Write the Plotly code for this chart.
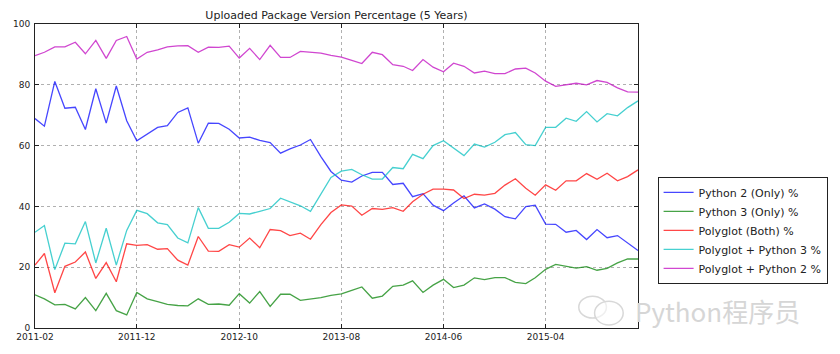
import pandas as pd
import plotly.graph_objects as go

months = pd.date_range("2011-02-01", periods=60, freq="MS")

python2_only = [68.9, 66.4, 81.1, 72.3, 72.6, 65.3, 78.7, 67.4, 79.6, 68.2,
                61.6, 63.8, 66.0, 66.6, 70.9, 72.4, 60.8, 67.4, 67.3, 65.4,
                62.5, 62.8, 61.7, 61.0, 57.5, 58.9, 60.2, 62.0, 56.4, 51.5,
                48.6, 48.0, 50.0, 51.2, 51.2, 47.2, 47.6, 43.2, 44.2, 40.4,
                38.6, 41.1, 43.5, 39.5, 40.8, 39.1, 36.6, 35.9, 39.9, 40.4,
                34.2, 34.1, 31.5, 32.1, 29.1, 32.4, 29.7, 30.4, 28.0, 25.5]

python3_only = [10.9, 9.6, 7.6, 7.8, 6.3, 10.0, 5.7, 11.4, 5.7, 4.3,
                11.7, 9.6, 8.7, 7.8, 7.4, 7.3, 9.6, 7.8, 7.9, 7.5,
                11.3, 8.2, 12.0, 7.1, 11.1, 11.1, 9.1, 9.5, 10.0, 10.7,
                11.2, 12.4, 13.5, 9.8, 10.5, 13.7, 14.1, 15.5, 11.7, 14.1,
                16.0, 13.3, 14.1, 16.5, 15.9, 16.6, 16.6, 15.0, 14.6, 16.5,
                19.3, 20.9, 20.3, 19.7, 20.2, 19.0, 19.6, 21.4, 22.7, 22.7]

polyglot_both = [20.7, 24.5, 11.6, 20.3, 21.7, 25.0, 16.3, 21.5, 15.2, 27.7,
                 27.2, 27.4, 25.9, 26.1, 22.3, 20.7, 30.1, 25.3, 25.2, 27.4,
                 26.6, 29.6, 26.4, 32.4, 32.0, 30.4, 31.2, 29.2, 34.0, 38.0,
                 40.5, 40.1, 37.1, 39.3, 39.0, 39.6, 38.4, 41.5, 44.0, 45.7,
                 45.7, 45.4, 42.6, 44.0, 43.7, 44.3, 47.0, 49.1, 46.0, 43.7,
                 47.1, 45.3, 48.4, 48.4, 50.8, 48.9, 50.9, 48.4, 49.8, 52.0]

polyglot_py3 = [31.5, 33.7, 19.2, 27.9, 27.7, 35.0, 21.4, 32.8, 20.7, 32.1,
                38.7, 37.6, 34.6, 34.0, 29.6, 28.0, 39.6, 32.8, 32.8, 34.8,
                37.7, 37.5, 38.4, 39.3, 42.7, 41.6, 40.2, 38.4, 44.0, 49.5,
                51.6, 52.2, 50.4, 49.0, 49.0, 52.8, 52.4, 57.1, 55.7, 60.0,
                61.6, 59.2, 56.7, 60.5, 59.5, 61.1, 63.6, 64.3, 60.3, 60.0,
                66.0, 66.0, 69.0, 68.0, 71.2, 67.8, 70.5, 69.8, 72.5, 74.7]

polyglot_py2 = [89.6, 90.7, 92.5, 92.5, 94.0, 90.2, 94.6, 88.7, 94.6, 95.9,
                88.5, 90.7, 91.5, 92.5, 92.8, 92.9, 90.7, 92.4, 92.3, 92.7,
                88.8, 92.0, 88.3, 93.0, 89.0, 89.0, 91.0, 90.8, 90.4, 89.7,
                89.1, 88.0, 87.0, 90.7, 89.9, 86.6, 86.1, 84.7, 88.3, 85.8,
                84.3, 87.1, 86.1, 83.9, 84.5, 83.7, 83.7, 85.2, 85.5, 83.9,
                81.2, 79.5, 79.9, 80.5, 80.0, 81.4, 80.8, 79.0, 77.7, 77.6]

series_names = ["Python 2 (Only) %", "Python 3 (Only) %", "Polyglot (Both) %",
                "Polyglot + Python 3 %", "Polyglot + Python 2 %"]
series_values = [python2_only, python3_only, polyglot_both, polyglot_py3, polyglot_py2]
series_colors = ["#0000ff", "#008000", "#ff0000", "#00bfbf", "#bf00bf"]

x_tick_dates = ["2011-02-01", "2011-12-01", "2012-10-01", "2013-08-01", "2014-06-01", "2015-04-01"]
x_tick_labels = ["2011-02", "2011-12", "2012-10", "2013-08", "2014-06", "2015-04"]
y_ticks = [0, 20, 40, 60, 80, 100]

fig = go.Figure()
for name, vals, col in zip(series_names, series_values, series_colors):
    fig.add_trace(go.Scatter(x=months, y=vals, mode="lines", name=name,
                             line=dict(color=col, width=1.3), opacity=0.72))

axis_common = dict(showline=True, linecolor="#222222", linewidth=1, mirror="allticks",
                   ticks="inside", ticklen=4, tickcolor="#222222",
                   showgrid=True, gridcolor="#b0b0b0", griddash="dot", gridwidth=1,
                   zeroline=False, tickfont=dict(family="DejaVu Sans", size=9, color="#222222"))

fig.update_xaxes(range=["2011-02-01", "2016-01-01"], tickvals=x_tick_dates,
                 ticktext=x_tick_labels, **axis_common)
fig.update_yaxes(range=[0, 100], tickvals=y_ticks, ticklabelstandoff=2, **axis_common)

fig.update_layout(
    width=840, height=354,
    margin=dict(l=35, r=194, t=24, b=24),
    paper_bgcolor="white", plot_bgcolor="white",
    title=dict(text="Uploaded Package Version Percentage (5 Years)", x=0.5, xref="paper",
               xanchor="center", y=1, yref="paper", yanchor="bottom", pad=dict(b=5),
               font=dict(family="DejaVu Sans", size=11, color="#222222")),
    legend=dict(x=1.0325, y=0.497, xanchor="left", yanchor="top",
                bordercolor="#222222", borderwidth=1, bgcolor="white",
                font=dict(family="DejaVu Sans", size=11, color="#222222"),
                itemwidth=30, tracegroupgap=0),
    showlegend=True,
)

# watermark
fig.add_annotation(text="Python程序员", xref="paper", yref="paper", x=1.2717, y=0.058,
                   xanchor="right", yanchor="middle", showarrow=False,
                   font=dict(family="Noto Sans CJK SC", size=26, color="#d6d6d6"))
fig.add_shape(type="circle", xref="paper", yref="paper",
              x0=(586 - 35) / 611, x1=(614 - 35) / 611, y0=(330 - 320) / 306, y1=(330 - 298) / 306,
              line=dict(color="#d8d8d8", width=1.5), layer="above")
fig.add_shape(type="circle", xref="paper", yref="paper",
              x0=(602 - 35) / 611, x1=(631 - 35) / 611, y0=(330 - 327) / 306, y1=(330 - 303) / 306,
              line=dict(color="#d8d8d8", width=1.5), fillcolor="rgba(255,255,255,0.6)", layer="above")

fig.write_html("out.html")
